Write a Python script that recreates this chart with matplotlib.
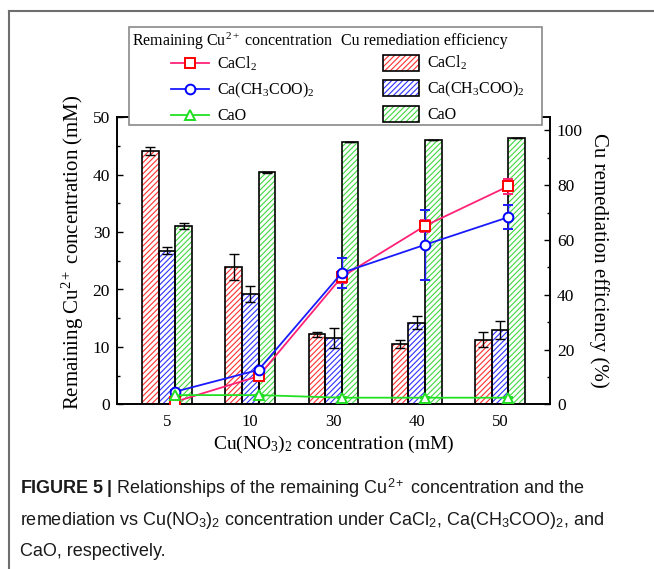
import numpy as np
import matplotlib
matplotlib.use("Agg")
import matplotlib.pyplot as plt
from matplotlib import font_manager as fm
from matplotlib.lines import Line2D
from matplotlib.patches import Patch, Rectangle
from matplotlib.legend_handler import HandlerTuple
from matplotlib.ticker import MultipleLocator

W, H = 654, 569

fams = {f.name for f in fm.fontManager.ttflist}
CAP_FONT = "Liberation Sans Narrow" if "Liberation Sans Narrow" in fams else "Liberation Sans"

plt.rcParams["font.family"] = "Liberation Serif"
plt.rcParams["mathtext.fontset"] = "custom"
plt.rcParams["mathtext.rm"] = "Liberation Serif"
plt.rcParams["mathtext.it"] = "Liberation Serif:italic"
plt.rcParams["mathtext.sf"] = CAP_FONT
plt.rcParams["mathtext.bf"] = CAP_FONT + ":bold"
plt.rcParams["hatch.linewidth"] = 0.8

# data
categories = ["5", "10", "30", "40", "50"]
salts = ["CaCl$_2$", "Ca(CH$_3$COO)$_2$", "CaO"]

# remaining Cu2+ (mM), lines on left axis
remain_cacl2 = [0.45, 4.9, 22.2, 31.1, 38.0]
remain_cacl2_err = [0.2, 0.3, 1.0, 1.0, 1.3]
remain_acet = [2.2, 6.0, 22.9, 27.8, 32.6]
remain_acet_err = [0.3, 0.4, 2.6, 6.1, 2.1]
remain_cao = [1.6, 1.6, 1.15, 1.15, 1.15]
remain_cao_err = [0.1, 0.1, 0.1, 0.1, 0.1]

# remediation efficiency (%), bars on right axis
eff_cacl2 = [92.6, 50.1, 25.5, 22.0, 23.6]
eff_cacl2_err = [1.4, 4.7, 0.8, 1.4, 2.7]
eff_acet = [56.1, 40.3, 24.1, 29.8, 27.0]
eff_acet_err = [1.3, 3.0, 3.6, 2.4, 3.3]
eff_cao = [65.1, 84.7, 95.6, 96.6, 97.2]
eff_cao_err = [1.2, 0.3, 0.0, 0.0, 0.0]

line_colors = ["#ff2277", "#1a1aff", "#22e022"]
marker_colors = ["#ff0000", "#0000ff", "#22dd22"]
markers = ["s", "o", "^"]
hatch_colors = ["#ff3030", "#3030ff", "#40d840"]
HATCH = "//////"

fig = plt.figure(figsize=(W / 100, H / 100), dpi=100)
ax = fig.add_axes([117 / W, 1 - 404.3 / H, (550 - 117) / W, (404.3 - 117.3) / H])
ax2 = ax.twinx()

x = np.arange(len(categories))
bw = 0.2
effs = [eff_cacl2, eff_acet, eff_cao]
eff_errs = [eff_cacl2_err, eff_acet_err, eff_cao_err]
for i, (vals, errs) in enumerate(zip(effs, eff_errs)):
  pos = x + (i - 1) * bw
  ax2.bar(pos, vals, bw, facecolor="white", edgecolor=hatch_colors[i], hatch=HATCH, linewidth=0, zorder=2)
  ax2.bar(pos, vals, bw, facecolor="none", edgecolor="black", linewidth=1.2, zorder=3)
  ax2.errorbar(pos, vals, yerr=errs, fmt="none", ecolor="black", elinewidth=1, capsize=3.5, capthick=1, zorder=4)

remains = [remain_cacl2, remain_acet, remain_cao]
remain_errs = [remain_cacl2_err, remain_acet_err, remain_cao_err]
line_handles = []
for i, (vals, errs) in enumerate(zip(remains, remain_errs)):
  eb = ax.errorbar(x + 0.1, vals, yerr=errs, color=line_colors[i], lw=1.3,
                   marker=markers[i], ms=7, mfc="white", mec=marker_colors[i], mew=1.4,
                   ecolor=line_colors[i], elinewidth=1, capsize=3.5, capthick=1, zorder=5)
  line_handles.append(eb[0])

ax.set_zorder(ax2.get_zorder() + 1)
ax.patch.set_visible(False)

ax.set_xlim(-0.6, len(categories) - 0.4)
ax.set_ylim(0, 50)
ax2.set_ylim(0, 104.8)
ax.set_xticks(x)
ax.set_xticklabels(categories)
ax.yaxis.set_major_locator(MultipleLocator(10))
ax.yaxis.set_minor_locator(MultipleLocator(5))
ax2.yaxis.set_major_locator(MultipleLocator(20))
ax2.yaxis.set_minor_locator(MultipleLocator(10))

ax.tick_params(axis="x", length=0, pad=7, labelsize=12)
ax.tick_params(axis="y", which="major", direction="in", length=4, width=1, pad=5, labelsize=12.5)
ax.tick_params(axis="y", which="minor", direction="in", length=2.5, width=1)
ax2.tick_params(axis="y", which="major", direction="in", length=4, width=1, pad=5, labelsize=12.5)
ax2.tick_params(axis="y", which="minor", direction="in", length=2.5, width=1)
for a in (ax, ax2):
  for s in a.spines.values():
    s.set_linewidth(1.2)

ax.set_xlabel("Cu(NO$_3$)$_2$ concentration (mM)", fontsize=14, labelpad=3)
ax.set_ylabel("Remaining Cu$^{2+}$ concentration (mM)", fontsize=15)
ax.yaxis.set_label_coords(-0.072, 0.53)
ax2.set_ylabel("Cu remediation efficiency (%)", fontsize=15, rotation=270, labelpad=19)

# legend box with two columns
box = Rectangle((129 / W, 1 - 125 / H), (542 - 129) / W, (125 - 27) / H, transform=fig.transFigure,
                facecolor="white", edgecolor="#8a8a8a", linewidth=1.2, zorder=10)
fig.add_artist(box)
fig.text(132 / W, 1 - 41 / H, "Remaining Cu$^{2+}$ concentration", fontsize=11.5, va="center", ha="left", zorder=11)
fig.text(341 / W, 1 - 41 / H, "Cu remediation efficiency", fontsize=11.5, va="center", ha="left", zorder=11)

leg1 = fig.legend(line_handles, salts, loc="upper left", bbox_to_anchor=(171 / W, 1 - 54.7 / H),
                  frameon=False, fontsize=11.5, handlelength=2.4, handletextpad=0.5, labelspacing=0.5,
                  borderpad=0, borderaxespad=0)
bar_handles = [(Patch(facecolor="white", edgecolor=hatch_colors[i], hatch=HATCH, linewidth=0),
                Patch(facecolor="none", edgecolor="black", linewidth=1.2)) for i in range(3)]
leg2 = fig.legend(bar_handles, salts, loc="upper left", bbox_to_anchor=(382.5 / W, 1 - 54 / H),
                  frameon=False, fontsize=11.5, handlelength=2.3, handleheight=1.15, handletextpad=0.5,
                  labelspacing=0.45, borderpad=0, borderaxespad=0,
                  handler_map={tuple: HandlerTuple(ndivide=1)})
leg1.set_zorder(12)
leg2.set_zorder(12)

# page frame lines
fig.add_artist(Line2D([9 / W, 1], [1 - 10.5 / H, 1 - 10.5 / H], transform=fig.transFigure, color="#6e6e6e", lw=1.5))
fig.add_artist(Line2D([9 / W, 9 / W], [0, 1 - 10.5 / H], transform=fig.transFigure, color="#6e6e6e", lw=1.5))

# caption
cap_kw = dict(family=CAP_FONT, fontsize=13, color="#1a1a1a", va="baseline", ha="left")
fig.text(20 / W, 1 - 494 / H,
         "$\\mathbf{FIGURE\\ 5\\ |}$ Relationships of the remaining Cu$^{\\mathsf{2+}}$ concentration and the",
         **cap_kw)
fig.text(20 / W, 1 - 525 / H,
         "remediation vs Cu(NO$_{\\mathsf{3}}$)$_{\\mathsf{2}}$ concentration under CaCl$_{\\mathsf{2}}$, "
         "Ca(CH$_{\\mathsf{3}}$COO)$_{\\mathsf{2}}$, and", **cap_kw)
fig.text(20 / W, 1 - 556 / H, "CaO, respectively.", **cap_kw)

fig.savefig("out.png", dpi=100)
